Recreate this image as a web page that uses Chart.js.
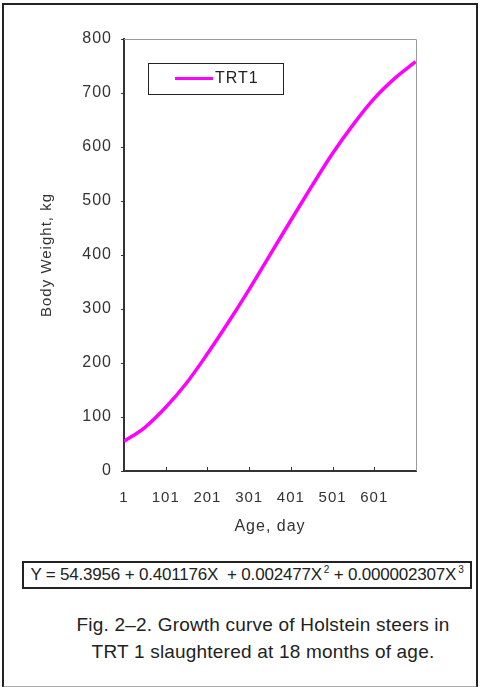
<!DOCTYPE html>
<html>
<head>
<meta charset="utf-8">
<script src="https://cdn.jsdelivr.net/npm/chart.js@4/dist/chart.umd.min.js"></script>
<style>
  body { margin: 0; background: #fff; }
  #page { position: relative; width: 482px; height: 687px; font-family: "Liberation Sans", Arial, sans-serif; color: #222; }
  #frame { position: absolute; left: 2px; top: 3px; width: 472px; height: 681px; border: 2px solid #222; border-bottom-color: #aaa; }
  #chartBox { position: absolute; left: 0; top: 0; width: 482px; height: 540px; }
  #equation { position: absolute; left: 22px; top: 561px; width: 446px; height: 24px; border: 2px solid #222;
              font-size: 17px; line-height: 24px; text-align: center; white-space: nowrap; letter-spacing: -0.2px; }
  #equation sup { font-size: 10px; vertical-align: 7px; line-height: 0; margin-left: 2px; }
  #caption { position: absolute; left: 40px; top: 611px; width: 446px; text-align: center; font-size: 19px; line-height: 27px; letter-spacing: 0.2px; }
</style>
</head>
<body>
<div id="page">
  <div id="frame"></div>
  <div id="chartBox"><canvas id="growth"></canvas></div>
  <div id="equation">Y = 54.3956 + 0.401176X &nbsp;+ 0.002477X<sup>2</sup> + 0.000002307X<sup>3</sup></div>
  <div id="caption">Fig. 2&#8211;2. Growth curve of Holstein steers in<br>TRT 1 slaughtered at 18 months of age.</div>
</div>
<script>
// values
const days = [1, 50, 100, 150, 200, 250, 300, 350, 400, 450, 500, 550, 600, 650, 700];
const bodyWeight = [55, 80, 117, 162, 216, 274, 335, 399, 463, 526, 587, 641, 689, 727, 758];
const xTicks = [1, 101, 201, 301, 401, 501, 601, 701];
const seriesName = 'TRT1';

const font = "'Liberation Sans', Arial, sans-serif";

// plot frame, inner x ticks and the boxed legend
const decorations = {
    id: 'decorations',
    beforeDatasetsDraw(chart) {
        const { ctx, chartArea: a } = chart;
        ctx.save();
        ctx.strokeStyle = '#999';
        ctx.lineWidth = 1;
        ctx.beginPath();
        ctx.moveTo(a.left, a.top + 0.5);
        ctx.lineTo(a.right + 0.5, a.top + 0.5);
        ctx.lineTo(a.right + 0.5, a.bottom);
        ctx.stroke();
        ctx.strokeStyle = '#333';
        const x = chart.scales.x;
        ctx.beginPath();
        xTicks.slice(1, -1).forEach(t => {
            const px = Math.round(x.getPixelForValue(t)) + 0.5;
            ctx.moveTo(px, a.bottom);
            ctx.lineTo(px, a.bottom - 4);
        });
        ctx.stroke();
        ctx.restore();
    },
    afterDraw(chart) {
        const { ctx } = chart;
        const ds = chart.data.datasets[0];
        ctx.save();
        ctx.fillStyle = '#fff';
        ctx.fillRect(148, 63, 135, 31);
        ctx.strokeStyle = '#222';
        ctx.lineWidth = 1;
        ctx.strokeRect(148.5, 63.5, 135, 31);
        ctx.strokeStyle = ds.borderColor;
        ctx.lineWidth = 3;
        ctx.beginPath();
        ctx.moveTo(175, 78.5);
        ctx.lineTo(213, 78.5);
        ctx.stroke();
        ctx.fillStyle = '#222';
        ctx.font = '16px ' + font;
        ctx.textBaseline = 'middle';
        ctx.fillText(ds.label, 215, 79);
        ctx.restore();
    }
};

const spacing = {
    id: 'spacing',
    beforeDraw(chart) { chart.ctx.letterSpacing = '1px'; }
};

new Chart(document.getElementById('growth'), {
    type: 'line',
    data: {
        datasets: [{
            label: seriesName,
            data: days.map((d, i) => ({ x: d, y: bodyWeight[i] })),
            borderColor: '#ff00ff',
            borderWidth: 3.5,
            pointRadius: 0,
            cubicInterpolationMode: 'monotone'
        }]
    },
    options: {
        responsive: true,
        maintainAspectRatio: false,
        animation: false,
        layout: { padding: { top: 39, right: 66, left: 0, bottom: 0 } },
        plugins: { legend: { display: false }, tooltip: { enabled: false } },
        scales: {
            x: {
                type: 'linear',
                min: 1,
                max: 701,
                afterBuildTicks: s => { s.ticks = xTicks.map(v => ({ value: v })); },
                afterFit: s => { s.height = 69; },
                grid: { display: false },
                border: { display: true, color: '#333', width: 2 },
                ticks: {
                    color: '#333',
                    font: { family: font, size: 15 },
                    padding: 10,
                    maxRotation: 0,
                    callback: v => (v === 701 ? '' : v)
                },
                title: {
                    display: true,
                    text: 'Age, day',
                    color: '#333',
                    font: { family: font, size: 16 },
                    padding: { top: 4, bottom: 4 }
                }
            },
            y: {
                min: 0,
                max: 800,
                afterFit: s => { s.width = 124; },
                grid: { drawOnChartArea: false, tickLength: 3, color: '#333' },
                border: { display: true, color: '#333', width: 2 },
                ticks: {
                    stepSize: 100,
                    color: '#333',
                    font: { family: font, size: 16 },
                    padding: 9
                },
                title: {
                    display: true,
                    text: 'Body Weight, kg',
                    color: '#333',
                    font: { family: font, size: 15 },
                    padding: { top: 38 }
                }
            }
        }
    },
    plugins: [spacing, decorations]
});
</script>
</body>
</html>
